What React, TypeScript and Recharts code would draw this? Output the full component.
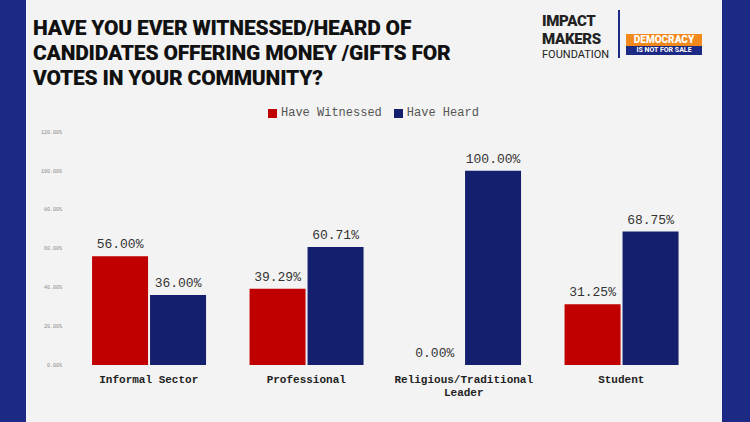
import React from "react"
import { BarChart, Bar, XAxis, YAxis, LabelList, ReferenceDot } from "recharts"

const categories = ["Informal Sector", "Professional", "Religious/Traditional Leader", "Student"]
const witnessed = [0.56, 0.3929, 0, 0.3125]
const heard = [0.36, 0.6071, 1.0, 0.6875]
const yTicks = [0, 0.2, 0.4, 0.6, 0.8, 1.0, 1.2]

const RED = "#c00000"
const NAVY = "#14206e"
const MONO = "'Liberation Mono', 'DejaVu Sans Mono', monospace"

const data = categories.map((c, i) => ({ name: c, witnessed: witnessed[i], heard: heard[i] }))

const pct = (v: any) => `${(Number(v) * 100).toFixed(2)}%`
const labelStyle = { fontFamily: MONO, fontSize: 13, fill: "#333" }

const CatTick = (props: any) => {
  const { x, y, payload } = props
  const lines = payload.value === "Religious/Traditional Leader" ? ["Religious/Traditional", "Leader"] : [payload.value]
  return (
    <text x={x} y={y + 10} textAnchor="middle" fontFamily={MONO} fontSize={11} fontWeight="bold" fill="#222">
      {lines.map((l, i) => (
        <tspan key={i} x={x} dy={i === 0 ? 0 : 13}>{l}</tspan>
      ))}
    </text>
  )
}

export default function App() {
  return (
    <div style={{ position: "fixed", left: 0, top: 0, width: 750, height: 422, background: "#f3f3f3", overflow: "hidden", fontFamily: "Roboto, sans-serif" }}>
      <div style={{ position: "absolute", left: 0, top: 0, width: 26, height: 422, background: "#1c2a86" }} />
      <div style={{ position: "absolute", right: 0, top: 0, width: 28, height: 422, background: "#1c2a86" }} />
      <div style={{ position: "absolute", left: 33, top: 16, fontSize: 21, fontWeight: 900, lineHeight: "25px", color: "#111", width: 480, letterSpacing: -0.2 }}>
        HAVE YOU EVER WITNESSED/HEARD OF CANDIDATES OFFERING MONEY /GIFTS FOR VOTES IN YOUR COMMUNITY?
      </div>
      <div style={{ position: "absolute", left: 542, top: 12, color: "#222" }}>
        <div style={{ fontSize: 15, fontWeight: 900, letterSpacing: -0.3, lineHeight: "18px" }}>IMPACT</div>
        <div style={{ fontSize: 15, fontWeight: 900, letterSpacing: -0.3, lineHeight: "18px" }}>MAKERS</div>
        <div style={{ fontSize: 11, lineHeight: "13px" }}>FOUNDATION</div>
      </div>
      <div style={{ position: "absolute", left: 618, top: 10, width: 2, height: 48, background: "#1c2a86" }} />
      <div style={{ position: "absolute", left: 626, top: 34, width: 76, textAlign: "center" }}>
        <div style={{ background: "#f08a1c", color: "#fff", fontSize: 10, fontWeight: 900, lineHeight: "12px" }}>DEMOCRACY</div>
        <div style={{ background: "#1c2a86", color: "#fff", fontSize: 7, fontWeight: 700, lineHeight: "9px" }}>IS NOT FOR SALE</div>
      </div>
      <div style={{ position: "absolute", left: 268, top: 106, display: "flex", alignItems: "center", fontFamily: MONO, fontSize: 12, color: "#555" }}>
        <span style={{ width: 9, height: 9, background: RED, marginRight: 4 }} />
        <span style={{ marginRight: 12 }}>Have Witnessed</span>
        <span style={{ width: 9, height: 9, background: NAVY, marginRight: 4 }} />
        <span>Have Heard</span>
      </div>
      <div style={{ position: "absolute", left: 0, top: 0 }}>
        <BarChart width={750} height={422} data={data} margin={{ top: 132, right: 50, bottom: 27, left: 0 }} barGap={2} barCategoryGap="14%">
          <XAxis dataKey="name" axisLine={false} tickLine={false} tick={<CatTick />} interval={0} />
          <YAxis width={70} domain={[0, 1.2]} ticks={yTicks} tickFormatter={pct} axisLine={false} tickLine={false} tick={{ fontSize: 5, fill: "#888", fontFamily: MONO }} />
          <Bar dataKey="witnessed" fill={RED} isAnimationActive={false}>
            <LabelList dataKey="witnessed" position="top" formatter={pct} offset={8} style={labelStyle} />
          </Bar>
          <Bar dataKey="heard" fill={NAVY} isAnimationActive={false}>
            <LabelList dataKey="heard" position="top" formatter={pct} offset={8} style={labelStyle} />
          </Bar>
          <ReferenceDot x={categories[2]} y={witnessed[2]} r={0} label={{ value: pct(witnessed[2]), position: "top", dx: -29, offset: 8, style: labelStyle }} />
        </BarChart>
      </div>
    </div>
  )
}
